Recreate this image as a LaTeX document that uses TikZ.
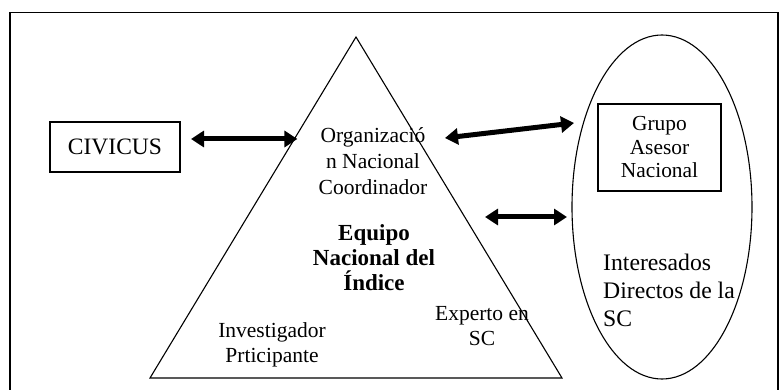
\documentclass[tikz,border=0pt]{standalone}
\usepackage{fontspec}
\setmainfont{Liberation Serif}
\usepackage{tikz}
\usetikzlibrary{
    arrows.meta,
    calc,
    positioning,
    shapes.geometric
}
\definecolor{ink}{RGB}{0,0,0}
\tikzset{
    line join=miter,
    frame/.style={draw=ink, line width=1.6pt},
    edgeline/.style={draw=ink, line width=1.1pt},
    labelbox/.style={
        rectangle,
        draw=ink,
        line width=1.1pt,
        inner sep=0pt,
        outer sep=0pt,
        align=center,
        text=ink
    },
    plain/.style={
        inner sep=0pt,
        text=ink,
        font=\fontsize{21.5}{25}\selectfont
    },
    bigarrow/.style={
        {Triangle[length=13pt,width=16pt]}-{Triangle[length=13pt,width=16pt]},
        draw=ink,
        line width=5pt
    }
}

\begin{document}
\begin{tikzpicture}[x=1pt, y=-1pt]
\useasboundingbox (0,0) rectangle (780,390);

% Outer frame
\draw[frame] (10,395) -- (10,12.7) -- (778,12.7) -- (778,395);

% Pyramid
\coordinate (apex) at (356,37);
\coordinate (baseL) at (150,378);
\coordinate (baseR) at (562,378);
\draw[edgeline] (apex) -- (baseL) -- (baseR) -- cycle;

% Stakeholders ellipse
\node[ellipse, draw=ink, line width=1.1pt, inner sep=0pt, outer sep=0pt,
      minimum width=180pt, minimum height=344pt] (stake) at (662,207) {};

% Boxes
\node[labelbox, minimum width=130pt, minimum height=50pt,
      font=\fontsize{23.5}{28}\selectfont] (civicus) at (115,147) {CIVICUS};
\node[labelbox, minimum width=123pt, minimum height=87pt,
      font=\fontsize{21.4}{23.5}\selectfont] (advisory) at (659.5,147.5)
      {Grupo\\Asesor\\Nacional};

% Labels
\node[plain, align=center, font=\fontsize{21.5}{26}\selectfont] (coord) at (373,161)
      {Organizació\\n Nacional\\Coordinador};
\node[plain, align=center, font=\fontsize{23}{25}\selectfont\bfseries] (team) at (374,258)
      {Equipo\\Nacional del\\Índice};
\node[plain, align=center] (researcher) at (272,344.5)
      {Investigador\\Prticipante};
\node[plain, align=center] (expert) at (482,326)
      {Experto en\\SC};
\node[plain, align=left, anchor=west, font=\fontsize{23.7}{28}\selectfont] (interested) at (603,290)
      {Interesados\\Directos de la\\SC};

% Arrows
\coordinate (leftedge) at ($(apex)!0.299!(baseL)$);
\draw[bigarrow] ([xshift=11pt]civicus.east |- 0,139) -- ([xshift=3pt]leftedge |- 0,139);
\coordinate (topin) at (445,138);
\coordinate (topout) at (574,123);
\draw[bigarrow] (topin) -- (topout);
\coordinate (midin) at (485,217);
\draw[bigarrow] (midin) -- ([xshift=-5pt]stake.west |- midin);
\end{tikzpicture}
\end{document}
